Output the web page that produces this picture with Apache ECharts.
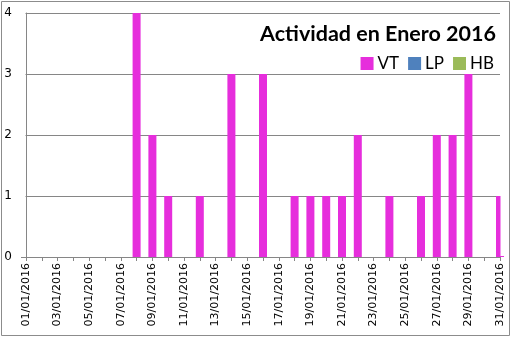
<!DOCTYPE html>
<html>
<head>
<meta charset="utf-8">
<script src="https://cdn.jsdelivr.net/npm/echarts@6/dist/echarts.min.js"></script>
<style>
  html, body { margin: 0; padding: 0; background: #fff; }
  #chart { width: 511px; height: 337px; }
</style>
</head>
<body>
<div id="chart"></div>
<script>
// Days of January 2016
const days = [
  '01/01/2016','02/01/2016','03/01/2016','04/01/2016','05/01/2016','06/01/2016','07/01/2016',
  '08/01/2016','09/01/2016','10/01/2016','11/01/2016','12/01/2016','13/01/2016','14/01/2016',
  '15/01/2016','16/01/2016','17/01/2016','18/01/2016','19/01/2016','20/01/2016','21/01/2016',
  '22/01/2016','23/01/2016','24/01/2016','25/01/2016','26/01/2016','27/01/2016','28/01/2016',
  '29/01/2016','30/01/2016','31/01/2016'
];
// Daily counts per activity type
const vtValues = [0,0,0,0,0,0,0, 4,2,1,0,1,0,3, 0,3,0,1,1,1,1, 2,0,1,0,1,2,2, 3,0,1];
const lpValues = [];
const hbValues = [];
const yTicks = [0, 1, 2, 3, 4];

const chart = echarts.init(document.getElementById('chart'), null, { renderer: 'canvas' });
const axisGray = '#868686';
chart.setOption({
  animation: false,
  backgroundColor: '#ffffff',
  title: {
    text: 'Actividad en Enero 2016',
    right: 10,
    top: 18,
    textStyle: { fontFamily: 'Lato', fontSize: 21.5, fontWeight: 'bold', color: '#000' }
  },
  legend: {
    right: 12,
    top: 50,
    itemWidth: 13,
    itemHeight: 13,
    itemGap: 9,
    icon: 'rect',
    textStyle: { fontFamily: 'Lato', fontSize: 17, color: '#000', padding: [0, 0, 0, -1] },
    data: ['VT', 'LP', 'HB']
  },
  grid: { left: 26, right: 11, top: 13, bottom: 80, containLabel: false },
  xAxis: {
    type: 'category',
    data: days,
    boundaryGap: false,
    axisLine: { lineStyle: { color: axisGray } },
    axisTick: { show: true, interval: 0, length: 4, lineStyle: { color: axisGray } },
    axisLabel: {
      interval: 1,
      rotate: 90,
      margin: 6,
      fontFamily: 'DejaVu Sans',
      fontSize: 11,
      color: '#000'
    },
    splitLine: { show: false }
  },
  yAxis: {
    type: 'value',
    min: yTicks[0],
    max: yTicks[yTicks.length - 1],
    interval: 1,
    axisLine: { show: true, lineStyle: { color: axisGray } },
    axisTick: { show: true, length: 5, lineStyle: { color: axisGray } },
    axisLabel: { margin: 14, fontFamily: 'DejaVu Sans', fontSize: 12, color: '#000' },
    splitLine: { lineStyle: { color: axisGray } }
  },
  series: [
    { name: 'VT', type: 'bar', data: vtValues, barWidth: 8, barGap: '-100%', clip: true,
      itemStyle: { color: '#E62EDC' } },
    { name: 'LP', type: 'bar', data: lpValues, barWidth: 8, barGap: '-100%', clip: true,
      itemStyle: { color: '#4F81BD' } },
    { name: 'HB', type: 'bar', data: hbValues, barWidth: 8, barGap: '-100%', clip: true,
      itemStyle: { color: '#9BBB59' } }
  ]
});

// Bars sit on the tick marks, so the edge bars spill half outside the plot;
// cover whatever lies beyond the plot area edges so they appear cut off.
const lastIdx = days.length - 1;
const topRight = chart.convertToPixel({ gridIndex: 0 }, [lastIdx, yTicks[yTicks.length - 1]]);
const bottomLeft = chart.convertToPixel({ gridIndex: 0 }, [0, yTicks[0]]);
chart.setOption({
  graphic: [
    {
      type: 'rect', silent: true, z: 100,
      shape: { x: topRight[0] + 0.5, y: topRight[1] - 1, width: 8, height: bottomLeft[1] - topRight[1] },
      style: { fill: '#ffffff' }
    },
    {
      type: 'rect', silent: true, z: 100,
      shape: { x: bottomLeft[0] - 8.5, y: topRight[1] - 1, width: 8, height: bottomLeft[1] - topRight[1] },
      style: { fill: '#ffffff' }
    },
    {
      type: 'rect', silent: true, z: 101,
      shape: { x: 1.5, y: 1.5, width: 508, height: 334 },
      style: { fill: null, stroke: '#8c8c8c', lineWidth: 1 }
    }
  ]
});
</script>
</body>
</html>
